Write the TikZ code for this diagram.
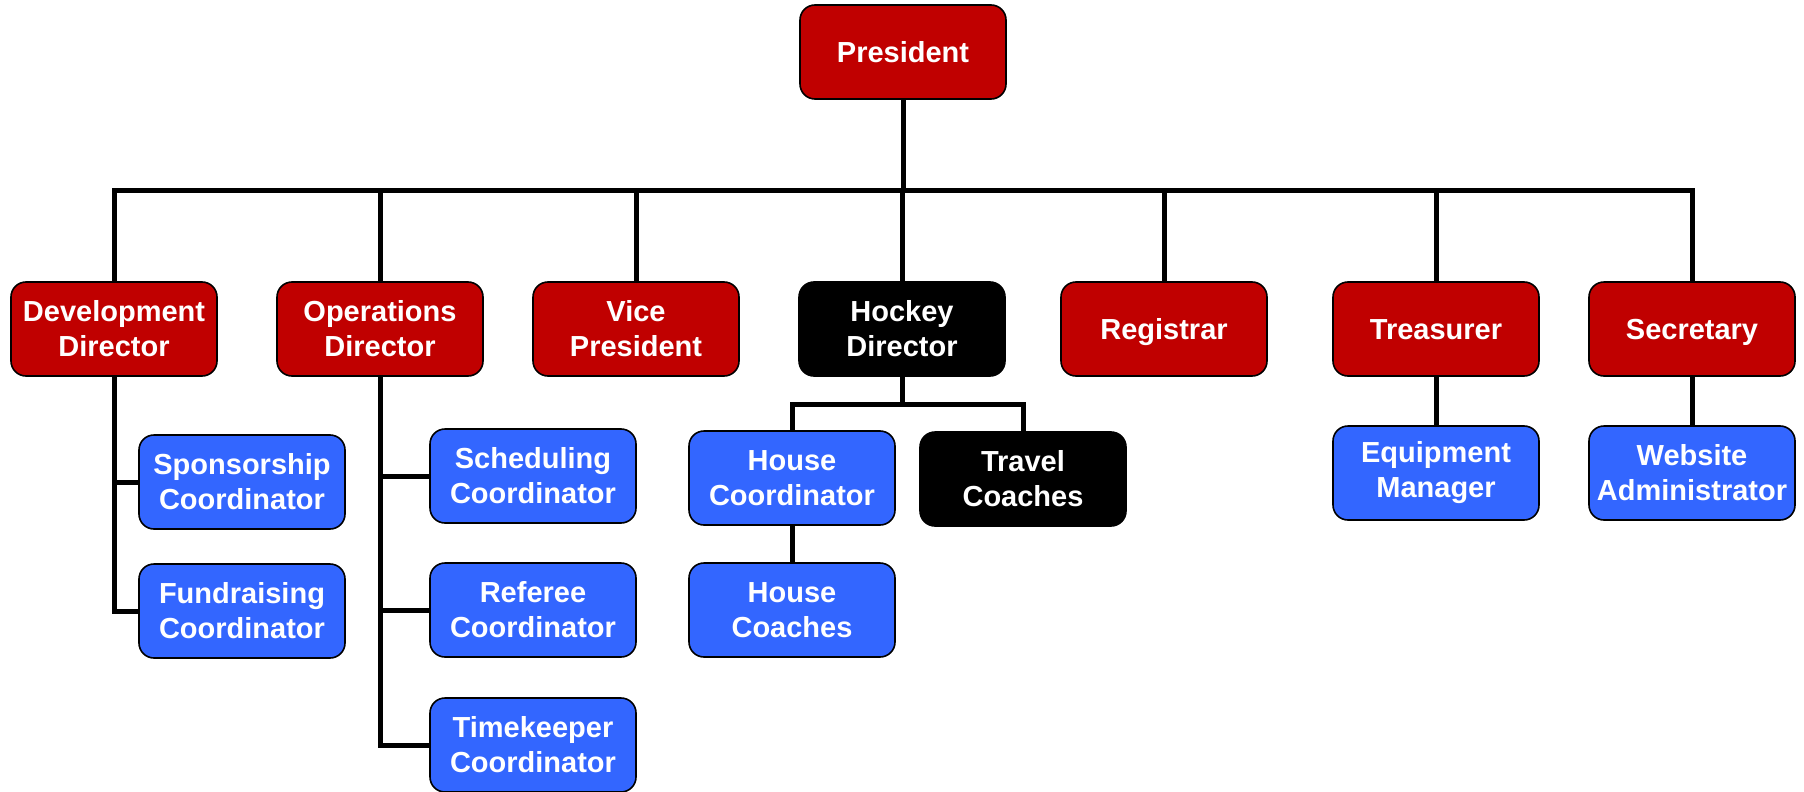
\documentclass[tikz,border=0pt]{standalone}
\usepackage{fontspec}
\setmainfont{Liberation Sans}
\definecolor{boardred}{HTML}{C00000}
\definecolor{staffblue}{HTML}{3366FF}
\tikzset{
  box/.style={draw=black, line width=0.8pt, rounded corners=7.5pt, minimum width=103pt,
    minimum height=47pt, inner sep=0pt, align=center, text=white,
    font=\fontsize{14.5pt}{17.5pt}\selectfont\bfseries},
  redbox/.style={box, fill=boardred},
  bluebox/.style={box, fill=staffblue},
  blackbox/.style={box, fill=black},
  oneline/.style={text height=12pt, text depth=1.5pt},
  link/.style={line width=2.5pt}
}
\begin{document}
\begin{tikzpicture}[x=0.5pt, y=-0.5pt]

        \useasboundingbox (0,0) rectangle (1804,792);

        \node[redbox, oneline] (pres) at (903,52) {President};

        \node[redbox] (dev) at (114,329) {Development\\Director};
        \node[redbox] (ops) at (380,329) {Operations\\Director};
        \node[redbox] (vp) at (636,329) {Vice\\President};
        \node[blackbox] (hd) at (902,329) {Hockey\\Director};
        \node[redbox, oneline] (reg) at (1164,329) {Registrar};
        \node[redbox, oneline] (tre) at (1436,329) {Treasurer};
        \node[redbox, oneline] (sec) at (1692,329) {Secretary};

        \node[bluebox] (spon) at (242,482) {Sponsorship\\Coordinator};
        \node[bluebox] (fund) at (242,611) {Fundraising\\Coordinator};

        \node[bluebox] (sched) at (533,476) {Scheduling\\Coordinator};
        \node[bluebox] (ref) at (533,610) {Referee\\Coordinator};
        \node[bluebox] (time) at (533,745) {Timekeeper\\Coordinator};

        \node[bluebox] (hc) at (792,478) {House\\Coordinator};
        \node[blackbox] (tc) at (1023,479) {Travel\\Coaches};
        \node[bluebox] (hcoach) at (792,610) {House\\Coaches};

        \node[bluebox] (eq) at (1436,473) {Equipment\\Manager};
        \node[bluebox] (web) at (1692,473) {Website\\Administrator};

        % board
        \coordinate (bus) at (903,190);
        \draw[link] (pres) -- (bus);
        \foreach \n in {dev,ops,vp,hd,reg,tre,sec}
          \draw[link] (bus) -| (\n.north);

        % directors
        \foreach \n in {spon,fund}
          \draw[link] (dev.south) |- (\n.west);
        \foreach \n in {sched,ref,time}
          \draw[link] (ops.south) |- (\n.west);

        \coordinate (hbus) at (902,404);
        \draw[link] (hd) -- (hbus);
        \draw[link] (hbus) -| (hc.north);
        \draw[link] (hbus) -| (tc.north);
        \draw[link] (hc) -- (hcoach);

        \draw[link] (tre) -- (eq);
        \draw[link] (sec) -- (web);

      \end{tikzpicture}
\end{document}
